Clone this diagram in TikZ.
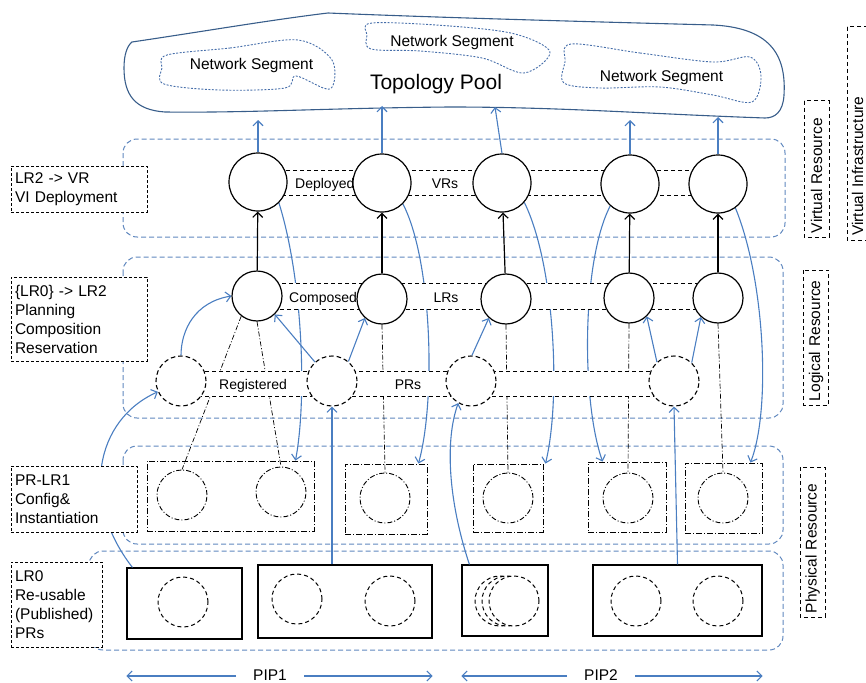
\documentclass[tikz,border=0pt]{standalone}
\usepackage{fontspec}
\setmainfont{Liberation Sans}
\usetikzlibrary{arrows.meta}
\definecolor{arrowblue}{RGB}{74,126,193}
\definecolor{layerblue}{RGB}{95,135,190}
\definecolor{poolblue}{RGB}{56,93,138}
\definecolor{segblue}{RGB}{70,110,170}
\pgfdeclarelayer{frames}
\pgfdeclarelayer{lines}
\pgfdeclarelayer{bands}
\pgfsetlayers{frames,lines,bands,main}
\begin{document}
\begin{tikzpicture}[x=1pt,y=-1pt,
  every node/.style={font=\fontsize{15.5}{19}\selectfont},
  barrow/.style={draw=arrowblue, line width=1.1pt, -{Straight Barb[length=5pt,width=10pt]}},
  karrow/.style={draw=black, line width=1.2pt, -{Straight Barb[length=5pt,width=10pt]}},
  dashdot/.style={draw=black, line width=0.7pt, dash pattern=on 5pt off 2pt on 1pt off 2pt},
  layer/.style={draw=layerblue, line width=1pt, dash pattern=on 5pt off 3pt, rounded corners=14pt},
  band/.style={draw=black, fill=white, line width=0.8pt, dash pattern=on 4pt off 3pt},
  bandtext/.style={font=\fontsize{14}{16}\selectfont, anchor=base, inner sep=0pt},
  lbl/.style={draw=black, fill=white, line width=0.8pt, dash pattern=on 3pt off 2pt, align=left, inner xsep=4pt, inner ysep=0pt},
  side/.style={draw=black, fill=white, line width=1pt, dash pattern=on 4pt off 3pt, rotate=90, align=left, inner xsep=4pt, minimum height=25pt},
  sideline/.style={draw=black, fill=white, line width=1pt, dash pattern=on 4pt off 3pt},
  vr/.style={circle, draw=black, fill=white, line width=1.2pt, minimum size=58pt, inner sep=0pt},
  lrc/.style={circle, draw=black, fill=white, line width=1.2pt, minimum size=50pt, inner sep=0pt},
  prc/.style={circle, draw=black, fill=white, line width=1.1pt, dash pattern=on 4.5pt off 3pt, minimum size=50pt, inner sep=0pt},
  ddc/.style={circle, draw=black, line width=0.9pt, dash pattern=on 5pt off 2pt on 1pt off 2pt, minimum size=50pt, inner sep=0pt},
  dashc/.style={circle, draw=black, fill=white, line width=1pt, dash pattern=on 4pt off 3pt, minimum size=50pt, inner sep=0pt},
  ddbox/.style={draw=black, line width=0.9pt, dash pattern=on 6pt off 2pt on 1pt off 2pt, inner sep=0pt},
  sbox/.style={draw=black, line width=1.2pt, inner sep=0pt},
  seg/.style={draw=segblue, line width=0.9pt, dash pattern=on 2pt off 1.5pt},
  piplabel/.style={anchor=base, inner xsep=17pt, inner ysep=0pt},
  segtext/.style={anchor=base, inner sep=0pt}
]
\clip (0,0) rectangle (866,682);

% ---------- resource nodes ----------
\node[vr] (V1) at (258,182) {};
\node[vr] (V2) at (382,183) {};
\node[vr] (V3) at (502,183) {};
\node[vr] (V4) at (630,184) {};
\node[vr] (V5) at (718,184) {};

\node[lrc] (L1) at (257,296) {};
\node[lrc] (L2) at (382,299) {};
\node[lrc] (L3) at (506,299) {};
\node[lrc] (L4) at (629,298) {};
\node[lrc] (L5) at (718,298) {};

\node[prc] (P1) at (181,381) {};
\node[prc] (P2) at (332,381) {};
\node[prc] (P3) at (471,381) {};
\node[prc] (P4) at (674,381) {};

\node[ddbox, minimum width=167pt, minimum height=70pt] (B1) at (230.5,496) {};
\node[ddbox, minimum width=82pt, minimum height=70pt] (B2) at (386,499) {};
\node[ddbox, minimum width=70pt, minimum height=68pt] (B3) at (508,498) {};
\node[ddbox, minimum width=78pt, minimum height=70pt] (B4) at (627,497) {};
\node[ddbox, minimum width=77pt, minimum height=70pt] (B5) at (723.5,498) {};
\node[ddc] (C11) at (182,495) {};
\node[ddc] (C12) at (281,492) {};
\node[ddc] (C2) at (385,498) {};
\node[ddc] (C3) at (508,498) {};
\node[ddc] (C4) at (628,498) {};
\node[ddc] (C5) at (723,498) {};

\node[sbox, minimum width=115pt, minimum height=71pt] (S1) at (184.5,603.5) {};
\node[sbox, minimum width=174pt, minimum height=73pt] (S2) at (345,601.5) {};
\node[sbox, minimum width=86pt, minimum height=71pt] (S3) at (505,600.5) {};
\node[sbox, minimum width=169pt, minimum height=71pt] (S4) at (677.5,600.5) {};
\node[dashc] (D1) at (183,602) {};
\node[dashc] (D21) at (297,599) {};
\node[dashc] (D22) at (390,601) {};
\node[dashc] (D3a) at (500,601) {};
\node[dashc] (D3b) at (507,601) {};
\node[dashc] (D3) at (514,601) {};
\node[dashc] (D41) at (636,601) {};
\node[dashc] (D42) at (718,601) {};

% ---------- frames and topology pool ----------
\begin{pgfonlayer}{frames}
\draw[layer] (123,139) rectangle (785,237);
\draw[layer] (123,257) rectangle (783,418);
\draw[layer] (123,446) rectangle (783,544);
\draw[layer] (89,551) rectangle (783,650);

\draw[poolblue, line width=1.1pt] (132,42) .. controls (200,32) and (270,20) .. (328,13)
  .. controls (450,18) and (600,22) .. (713,25)
  .. controls (775,28) and (786,60) .. (784,95)
  .. controls (783,112) and (775,118) .. (765,118)
  .. controls (650,114) and (560,107) .. (450,107)
  .. controls (330,108) and (250,113) .. (165,112)
  .. controls (135,110) and (124,95) .. (124,68)
  .. controls (124,55) and (127,46) .. (132,42) -- cycle;

\draw[seg] plot[smooth cycle, tension=0.55] coordinates {(167,55) (230,48) (298,40) (332,60) (330,89) (296,76) (285,88) (220,90) (164,84) (162,68)};
\draw[seg] plot[smooth cycle, tension=0.55] coordinates {(372,23) (450,26) (515,34) (550,52) (524,73) (482,58) (420,51) (371,49) (367,35)};
\draw[seg] plot[smooth cycle, tension=0.55] coordinates {(571,44) (640,53) (713,62) (750,57) (761,76) (752,102) (713,95) (660,87) (600,88) (564,83) (565,62)};

\node[segtext] (ns1) at (251.5,70) {Network Segment};
\node[segtext] (ns2) at (452,47) {Network Segment};
\node[segtext] (ns3) at (661.5,82) {Network Segment};
\node[segtext, font=\fontsize{21}{24}\selectfont] (tp) at (436,90) {Topology Pool};
\end{pgfonlayer}

% ---------- long connectors ----------
\begin{pgfonlayer}{lines}
\draw[barrow] (V1.-45) .. controls (303,280) and (307,400) .. ([xshift=-19pt]B1.north east);
\draw[barrow] (V2.-45) .. controls (432,260) and (436,400) .. ([xshift=-9pt]B2.north east);
\draw[barrow] (V3.-41) .. controls (555,265) and (561,400) .. ([xshift=2pt]B3.north east);
\draw[barrow] (V4.228) .. controls (582,260) and (581,400) .. ([xshift=15pt]B4.north west);
\draw[barrow] (V5.-54) .. controls (765,280) and (771,410) .. ([xshift=-12pt]B5.north east);

\draw[dashdot] (L1.232) -- (C11.north);
\draw[dashdot] (L1.south) -- (C12.north);
\draw[dashdot] (L2.south) -- (C2.north);
\draw[dashdot] (L3.south) -- (C3.north);
\draw[dashdot] (L4.south) -- (C4.north);
\draw[dashdot] (L5.south) -- (C5.north);
\end{pgfonlayer}

% ---------- bands ----------
\begin{pgfonlayer}{bands}
\draw[band] (258,170) rectangle (718,195);
\node[bandtext, anchor=base west] (tDep) at (295,188) {Deployed};
\node[bandtext] (tVRs) at (445,188) {VRs};
\draw[band] (257,283) rectangle (718,309);
\node[bandtext, anchor=base west] (tComp) at (289,302) {Composed};
\node[bandtext] (tLRs) at (446,302) {LRs};
\draw[band] (181,371) rectangle (674,396);
\node[bandtext, anchor=base west] (tReg) at (219,389) {Registered};
\node[bandtext] (tPRs) at (408,389) {PRs};
\end{pgfonlayer}

% ---------- arrows ----------
\coordinate (t1) at (258,120);
\coordinate (t2) at (382,106);
\coordinate (t3) at (495,107);
\coordinate (t4) at (630,120);
\coordinate (t5) at (718,117);
\draw[barrow] (V1.north) -- (t1);
\draw[barrow] (V2.north) -- (t2);
\draw[barrow] (V3.north) -- (t3);
\draw[barrow] (V4.north) -- (t4);
\draw[barrow] (V5.north) -- (t5);

\draw[karrow] (L1) -- (V1);
\draw[karrow] (L2) -- (V2);
\draw[karrow] (L3) -- (V3);
\draw[karrow] (L4) -- (V4);
\draw[karrow] (L5) -- (V5);

\draw[barrow] (P1.north) .. controls (181,330) and (195,302) .. (L1.west);
\draw[barrow] (P2.132) -- (L1.-46);
\draw[barrow] (P2.50) -- (L2.228);
\draw[barrow] (P3.88) -- (L3.228);
\draw[barrow] (P4.132) -- (L4.-46);
\draw[barrow] (P4.46) -- (L5.228);

\draw[barrow] ([xshift=6pt]S1.north west) .. controls (80,500) and (95,420) .. (P1.205);
\draw[barrow] (P2.south |- S2.north) -- (P2.south);
\draw[barrow] ([xshift=8pt]S3.north west) .. controls (448,500) and (445,440) .. (P3.240);
\draw[barrow] (S4.north) -- (P4.south);

% ---------- label boxes ----------
\node[lbl, text width=128pt, minimum height=46pt] (lb1) at (79,189) {LR2 -> VR\\VI Deployment};
\node[lbl, text width=128pt, minimum height=84pt] (lb2) at (79,319) {\{LR0\} -> LR2\\Planning\\Composition\\Reservation};
\node[lbl, text width=118pt, minimum height=66pt] (lb3) at (74,499) {PR-LR1\\Config\&\\Instantiation};
\node[lbl, text width=83pt, minimum height=85pt] (lb4) at (56.5,604.5) {LR0\\Re-usable\\(Published)\\PRs};

\draw[sideline] (847,27) rectangle (872,240);
\node[rotate=90, anchor=west, inner sep=0pt] (sVI) at (857.5,236) {Virtual Infrastructure};
\node[side, text width=128pt] (sVR) at (816.5,169) {Virtual Resource};
\node[side, text width=127pt] (sLR) at (816,337.5) {Logical Resource};
\node[side, text width=142pt] (sPR) at (812.5,542) {Physical Resource};

% ---------- PIP ----------
\coordinate (pipy) at (0,676);
\node[piplabel] (pip1) at (270,680) {PIP1};
\node[piplabel] (pip2) at (601,680) {PIP2};
\draw[barrow] (pip1.west |- pipy) -- (S1.west |- pipy);
\draw[barrow] (pip1.east |- pipy) -- (S2.east |- pipy);
\draw[barrow] (pip2.west |- pipy) -- (S3.west |- pipy);
\draw[barrow] (pip2.east |- pipy) -- (S4.east |- pipy);
\end{tikzpicture}
\end{document}
